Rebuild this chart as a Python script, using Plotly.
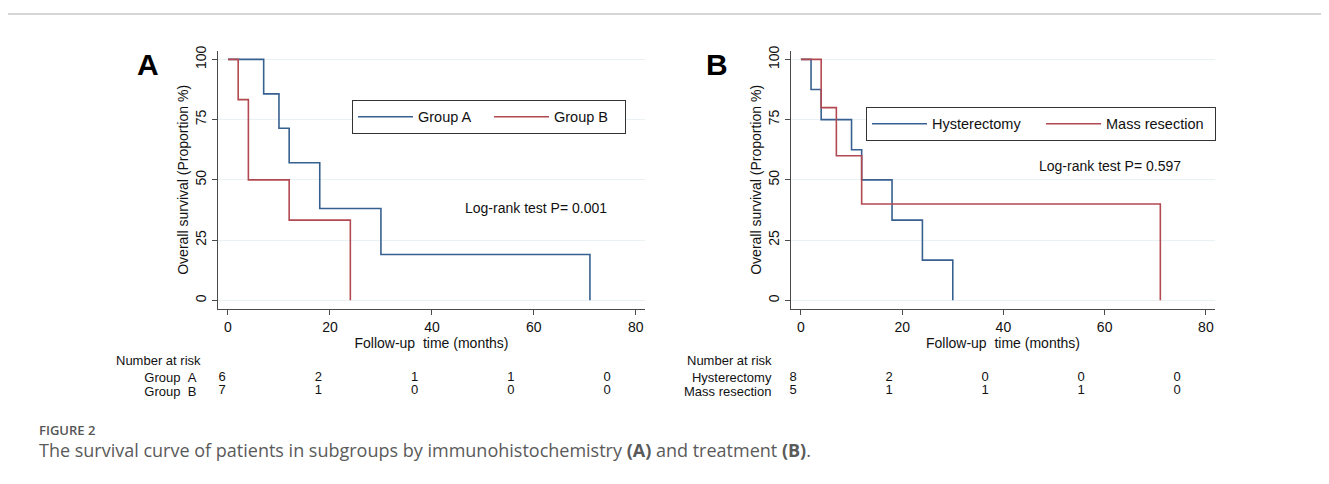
import plotly.graph_objects as go

# ---------------- data ----------------
# Panel A: Kaplan-Meier steps (time in months, survival %)
a_grpA_time = [0, 7, 10, 12, 18, 30, 71]
a_grpA_surv = [100, 85.7, 71.4, 57.1, 38.1, 19.0, 0]
a_grpB_time = [0, 2, 4, 12, 24]
a_grpB_surv = [100, 83.3, 50, 33.3, 0]

# Panel B
b_hyst_time = [0, 2, 4, 10, 12, 18, 24, 30]
b_hyst_surv = [100, 87.5, 75, 62.5, 50, 33.3, 16.7, 0]
b_mass_time = [0, 4, 7, 12, 71]
b_mass_surv = [100, 80, 60, 40, 0]

# Number at risk tables
risk_times = [0, 20, 40, 60, 80]
a_risk_labels = ["Group\u00a0\u00a0A", "Group\u00a0\u00a0B"]
a_risk_A = [6, 2, 1, 1, 0]
a_risk_B = [7, 1, 0, 0, 0]
b_risk_labels = ["Hysterectomy", "Mass resection"]
b_risk_H = [8, 2, 0, 0, 0]
b_risk_M = [5, 1, 1, 1, 0]

x_ticks = [0, 20, 40, 60, 80]
y_ticks = [0, 25, 50, 75, 100]
pvals = ["Log-rank test P= 0.001", "Log-rank test P= 0.597"]

# ---------------- style ----------------
OFF = 8                      # page body margin
W, H = 1329 - OFF, 484 - OFF
BLUE = "#36608f"
RED = "#b24850"
FONT = "Liberation Sans, Arial, sans-serif"
AX = "#4a4a4a"
GRID = "#e9f1f5"


def px(x):
    return (x - OFF) / W


def py(y):
    return 1 - (y - OFF) / H


fig = go.Figure()


def km(t, s, name, color, xa, ya, legend):
    fig.add_trace(go.Scatter(
        x=t, y=s, mode="lines", name=name, line=dict(color=color, width=1.6, shape="hv"),
        xaxis=xa, yaxis=ya, legend=legend, hoverinfo="x+y"))


km(a_grpA_time, a_grpA_surv, "Group A", BLUE, "x", "y", "legend")
km(a_grpB_time, a_grpB_surv, "Group B", RED, "x", "y", "legend")
km(b_hyst_time, b_hyst_surv, "Hysterectomy", BLUE, "x2", "y2", "legend2")
km(b_mass_time, b_mass_surv, "Mass resection", RED, "x2", "y2", "legend2")


def risk(labels, rows, xa, ya):
    for lab, vals in zip(labels, rows):
        fig.add_trace(go.Scatter(
            x=risk_times, y=[lab] * len(vals), text=[str(v) for v in vals], mode="text",
            textfont=dict(size=13, color="#111", family=FONT), xaxis=xa, yaxis=ya,
            cliponaxis=False, showlegend=False, hoverinfo="skip"))


risk(a_risk_labels, [a_risk_A, a_risk_B], "x3", "y3")
risk(b_risk_labels, [b_risk_H, b_risk_M], "x4", "y4")

plot_dom_y = [py(308), py(46)]
xa_common = dict(range=[-1.96, 81.8], tickvals=x_ticks, ticks="outside", ticklen=5, tickcolor=AX,
                 showline=True, linecolor=AX, linewidth=1, showgrid=False, zeroline=False,
                 tickfont=dict(size=14, color="#111", family=FONT),
                 title=dict(text="Follow-up\u00a0\u00a0time (months)", font=dict(size=14, color="#111", family=FONT), standoff=0))
ya_common = dict(range=[-3.69, 103.69], tickvals=y_ticks, ticks="outside", ticklen=5, tickcolor=AX,
                 tickangle=-90, showline=True, linecolor=AX, linewidth=1,
                 showgrid=True, gridcolor=GRID, gridwidth=1, zeroline=False,
                 tickfont=dict(size=14, color="#111", family=FONT),
                 title=dict(text="Overall survival (Proportion %)", font=dict(size=14, color="#111", family=FONT), standoff=1))

risk_y_dom = [py(398), py(370)]
risk_x_common = dict(range=[0, 80], visible=False, fixedrange=True)
risk_y_common = dict(type="category", range=[1.5, -0.5], ticks="outside", tickcolor="rgba(0,0,0,0)",
                     showline=False, showgrid=False, zeroline=False, fixedrange=True,
                     tickfont=dict(size=13, color="#111", family=FONT), domain=risk_y_dom)

leg_common = dict(xanchor="left", yanchor="top", orientation="h",
                  bordercolor="#333", borderwidth=1, bgcolor="white",
                  font=dict(size=14.5, color="#111", family=FONT), itemwidth=55,
                  entrywidthmode="pixels")

fig.update_layout(
    width=W, height=H, margin=dict(l=0, r=0, t=0, b=0),
    paper_bgcolor="white", plot_bgcolor="white",
    font=dict(family=FONT, size=13, color="#111"),
    xaxis=dict(domain=[px(218), px(645)], anchor="y", **xa_common),
    yaxis=dict(domain=plot_dom_y, anchor="x", **ya_common),
    xaxis2=dict(domain=[px(791), px(1215)], anchor="y2", **xa_common),
    yaxis2=dict(domain=plot_dom_y, anchor="x2", **ya_common),
    xaxis3=dict(domain=[px(222), px(607)], anchor="y3", **risk_x_common),
    yaxis3=dict(anchor="x3", tickvals=a_risk_labels, categoryarray=a_risk_labels, ticklen=22, **risk_y_common),
    xaxis4=dict(domain=[px(793), px(1177)], anchor="y4", **risk_x_common),
    yaxis4=dict(anchor="x4", tickvals=b_risk_labels, categoryarray=b_risk_labels, ticklen=18, **risk_y_common),
    legend=dict(x=px(352), y=py(96), entrywidth=66, **leg_common),
    legend2=dict(x=px(866), y=py(103), entrywidth=104, **leg_common),
    showlegend=True,
)

ann = []


def note(text, x, y, size, color="#111", family=FONT, xanchor="center", **kw):
    ann.append(dict(text=text, x=x, y=y, xref=kw.pop("xref", "paper"), yref=kw.pop("yref", "paper"),
                    xanchor=xanchor, yanchor="middle", showarrow=False,
                    font=dict(size=size, color=color, family=family, **kw)))


note("<b>A</b>", px(148), py(60), 30, "#000")
note("<b>B</b>", px(717), py(60), 30, "#000")
note(pvals[0], 60.4, 38.5, 14, xref="x", yref="y")
note(pvals[1], 61.1, 55.7, 14, xref="x2", yref="y2")
note("Number at risk", px(114), py(360), 13, xanchor="left")
note("Number at risk", px(685), py(360), 13, xanchor="left")
note("FIGURE 2", px(37), py(430), 13, "#555", "Open Sans, sans-serif", xanchor="left", weight=600)
note("The survival curve of patients in subgroups by immunohistochemistry <b>(A)</b> and treatment <b>(B)</b>.",
     px(37), py(451), 18, "#5a5a5a", "Open Sans, sans-serif", xanchor="left")
fig.update_layout(annotations=ann)

# figure frame (top and left edges)
fig.add_shape(type="line", xref="paper", yref="paper", x0=px(7), x1=1, y0=py(9), y1=py(9),
              line=dict(color="#c8c8c8", width=1.5))
fig.add_shape(type="line", xref="paper", yref="paper", x0=px(7), x1=px(7), y0=0, y1=py(9),
              line=dict(color="#c8c8c8", width=1.5))

fig.write_html("out.html")
